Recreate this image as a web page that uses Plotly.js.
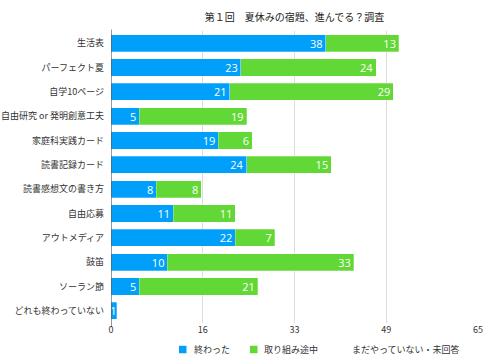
<!DOCTYPE html>
<html><head><meta charset="utf-8">
<script src="https://cdn.plot.ly/plotly-3.0.1.min.js"></script>
<style>html,body{margin:0;padding:0;background:#fff}#chart{width:500px;height:363px}</style>
</head><body><div id="chart"></div>
<script>
const categories = ["生活表","パーフェクト夏","自学10ページ","自由研究 or 発明創意工夫","家庭科実践カード","読書記録カード","読書感想文の書き方","自由応募","アウトメディア","鼓笛","ソーラン節","どれも終わっていない"];
const done = [38,23,21,5,19,24,8,11,22,10,5,1];
const inProgress = [13,24,29,19,6,15,8,11,7,33,21,0];
const notYet = [0,0,0,0,0,0,0,0,0,0,0,0];
const seriesNames = ['終わった','取り組み途中','まだやっていない・未回答'];
const seriesColors = ['#00a0fa','#62d836','#ffffff'];
const tickVals = [0,16.25,32.5,48.75,65];
const tickText = ["0","16","33","49","65"];

const font = "Noto Sans CJK JP, sans-serif";
const W=500,H=363,L=111,R=22,T=31,B=40;
const pw=W-L-R, ph=H-T-B;
function px2x(p){return (p-L)/pw;}
function py2y(p){return (H-B-p)/ph;}

function mk(name, vals, color){
  return {type:'bar', orientation:'h', name:name, y:categories, x:vals.map(v=>v===0?null:v),
    text:vals.map(v=>v===0?'':String(v)), textposition:'inside', insidetextanchor:'end', constraintext:'none', textangle:0,
    textfont:{color:'#fff', size:11, family:'Open Sans, sans-serif'},
    marker:{color:color, line:{color:'rgba(255,255,255,0.45)', width:0.6}},
    hoverinfo:'none', showlegend:false};
}
const data = [mk(seriesNames[0], done, seriesColors[0]), mk(seriesNames[1], inProgress, seriesColors[1]), mk(seriesNames[2], notYet, seriesColors[2])];

// custom legend
const legSq=[179,250,340], legTx=[192,262,350], legY=349.5;
const shapes=[{type:'line', xref:'x', yref:'paper', x0:0, x1:0, y0:-0.012, y1:1.005, line:{color:'#333', width:1}}];
const annotations=[];
for(let i=0;i<3;i++){
  shapes.push({type:'rect', xref:'paper', yref:'paper', x0:px2x(legSq[i]), x1:px2x(legSq[i]+7.5), y0:py2y(legY+3.75), y1:py2y(legY-3.75), line:{width:0}, fillcolor:seriesColors[i]});
  annotations.push({xref:'paper', yref:'paper', x:px2x(legTx[i]), y:py2y(legY), xanchor:'left', yanchor:'middle', showarrow:false, text:seriesNames[i], font:{size:9, color:'#333', family:font}});
}

const layout = {
  width:W, height:H, barmode:'stack', bargap:0.29,
  margin:{l:L, r:R, t:T, b:B},
  paper_bgcolor:'#fff', plot_bgcolor:'#fff',
  font:{family:font, size:9, color:'#333'},
  title:{text:'第１回　夏休みの宿題、進んでる？調査', font:{size:10, color:'#222', family:font}, xref:'paper', x:0.5, xanchor:'center', yref:'container', y:(H-17)/H, yanchor:'middle'},
  xaxis:{range:[0,65], tickvals:tickVals, ticktext:tickText, showgrid:true, gridcolor:'#dddddd', gridwidth:1,
    zeroline:false, showline:false, ticks:'', tickfont:{size:9, color:'#333'}, fixedrange:true, automargin:false},
  yaxis:{autorange:'reversed', showgrid:false, zeroline:false, showline:false, ticks:'', ticklabelstandoff:6,
    tickfont:{size:9, color:'#333'}, automargin:false},
  shapes:shapes, annotations:annotations,
  showlegend:false
};
Plotly.newPlot('chart', data, layout, {staticPlot:true});
</script></body></html>
